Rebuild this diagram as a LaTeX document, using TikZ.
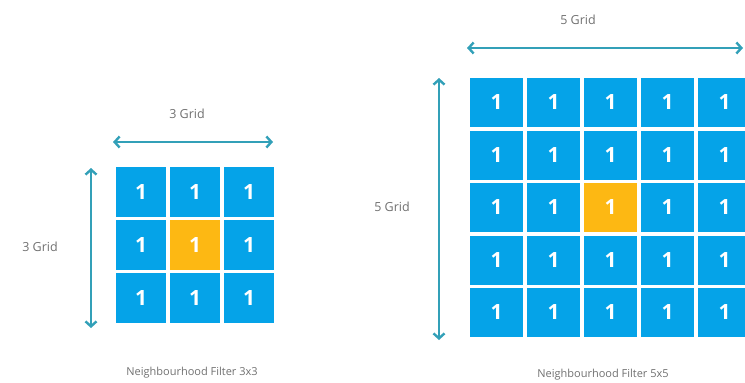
\documentclass[tikz,border=0pt]{standalone}
\usepackage{fontspec}
\setmainfont{Open Sans}
\usetikzlibrary{arrows.meta}
\definecolor{cellblue}{HTML}{05A3E8}
\definecolor{cellorange}{HTML}{FDB813}
\definecolor{arrteal}{HTML}{32A0B8}
\definecolor{txtgrey}{HTML}{707070}
\tikzset{
  cellA/.style={fill=cellblue, minimum width=50pt, minimum height=50pt, inner sep=0pt, text=white, font=\bfseries\fontsize{21}{21}\selectfont},
  cellB/.style={fill=cellblue, minimum width=53pt, minimum height=49pt, inner sep=0pt, text=white, font=\bfseries\fontsize{21}{21}\selectfont},
  hot/.style={fill=cellorange},
  dimarrow/.style={draw=arrteal, line width=2.4pt, {Straight Barb[length=5pt,width=11pt,line width=2.4pt]}-{Straight Barb[length=5pt,width=11pt,line width=2.4pt]}},
  lbl/.style={text=txtgrey, font=\fontsize{12.5}{13}\selectfont, inner sep=0pt},
  captext/.style={text=txtgrey, font=\fontsize{11}{12}\selectfont, inner sep=0pt}
}
\begin{document}
\begin{tikzpicture}[x=1pt,y=-1pt]
\useasboundingbox (0,0) rectangle (745,383);
\clip (0,0) rectangle (745,383);
% left 3x3 grid
\foreach \r in {1,2,3}{
  \foreach \c in {1,2,3}{
    \pgfmathsetmacro{\cx}{141+(\c-1)*54}
    \pgfmathsetmacro{\cy}{192+(\r-1)*53}
    \ifnum\r=2 \ifnum\c=2
      \node[cellA,hot] (a\r\c) at (\cx,\cy) {1};
    \else
      \node[cellA] (a\r\c) at (\cx,\cy) {1};
    \fi\else
      \node[cellA] (a\r\c) at (\cx,\cy) {1};
    \fi
  }
}
\coordinate (ah1) at (113,142);
\coordinate (ah2) at (273,142);
\draw[dimarrow] (ah1) -- (ah2);
\coordinate (av1) at (91,168);
\coordinate (av2) at (91,328);
\draw[dimarrow] (av1) -- (av2);
\node[lbl] (lt) at (187,114) {3 Grid};
\node[lbl] (ll) at (40,247) {3 Grid};
\node[captext] (lc) at (192,373) {Neighbourhood Filter 3x3};
% right 5x5 grid
\foreach \r in {1,...,5}{
  \foreach \c in {1,...,5}{
    \pgfmathsetmacro{\cx}{496.5+(\c-1)*57}
    \pgfmathsetmacro{\cy}{102.5+(\r-1)*52.5}
    \ifnum\r=3 \ifnum\c=3
      \node[cellB,hot] (b\r\c) at (\cx,\cy) {1};
    \else
      \node[cellB] (b\r\c) at (\cx,\cy) {1};
    \fi\else
      \node[cellB] (b\r\c) at (\cx,\cy) {1};
    \fi
  }
}
\coordinate (bh1) at (467,48);
\coordinate (bh2) at (743,48);
\draw[dimarrow] (bh1) -- (bh2);
\coordinate (bv1) at (439,78);
\coordinate (bv2) at (439,340);
\draw[dimarrow] (bv1) -- (bv2);
\node[lbl] (rt) at (578,20) {5 Grid};
\node[lbl] (rl) at (392,207) {5 Grid};
\node[captext] (rc) at (603,375) {Neighbourhood Filter 5x5};
\end{tikzpicture}
\end{document}
